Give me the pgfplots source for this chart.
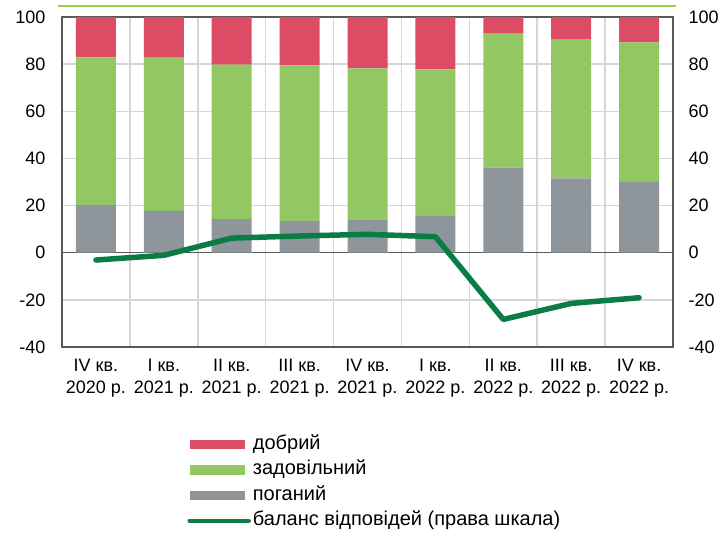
\documentclass[border=0pt]{standalone}
\usepackage{pgfplots}
\pgfplotsset{compat=1.18}
\usepackage{pgfplotstable}
\usepackage{fontspec}
\setmainfont{Liberation Sans}

\definecolor{cgood}{HTML}{DC4C64}
\definecolor{cok}{HTML}{92C764}
\definecolor{cbad}{HTML}{8E969B}
\definecolor{cbal}{HTML}{0A7D45}
\definecolor{cgrid}{HTML}{D6D6D6}
\definecolor{caxis}{HTML}{595959}
\definecolor{ctop}{HTML}{92D050}

% shares of answers (stacked) and balance (right scale)
\pgfplotstableread{
x bad ok good bal
0 20.2 62.7 17.1 -3.1
1 17.7 65.3 17.0 -1.1
2 14.3 65.5 20.2 6.2
3 13.4 66.1 20.5 7.1
4 14.1 64.1 21.8 7.8
5 15.6 62.2 22.2 6.8
6 36.1 56.8 7.1 -28.3
7 31.5 58.9 9.6 -21.5
8 30.1 59.1 10.8 -19.1
}\data

\pgfplotsset{
  base/.style={
    scale only axis, width=611pt, height=330pt,
    xmin=-0.5, xmax=8.5, ymin=-40, ymax=100,
    ytick={-40,-20,...,100},
    tick label style={font=\fontsize{18}{21.5}\selectfont},
    /pgf/number format/assume math mode=true,
    axis line style={caxis, line width=1.3pt},
    major tick length=0pt, minor tick length=0pt,
  }
}

\begin{document}
\begin{tikzpicture}
% grid underneath
\begin{axis}[
  base,
  xtick={0.5,1.5,...,7.5}, ytick={-20,20,40,60,80},
  xticklabels={}, yticklabels={},
  xmajorgrids=true,
  x grid style={cgrid, line width=1.5pt},
  axis line style={draw=none},
]
\pgfplotsinvokeforeach{-20,20,40,60,80}{
  \draw[cgrid, line width=1.5pt] (axis cs:-0.5,#1) -- (axis cs:8.5,#1);
}
\end{axis}

\begin{axis}[
  base, name=ax,
  ybar stacked, bar width=40pt,
  xtick={0,...,8},
  xticklabels={{IV кв.\\2020 р.},{I кв.\\2021 р.},{II кв.\\2021 р.},{III кв.\\2021 р.},{IV кв.\\2021 р.},{I кв.\\2022 р.},{II кв.\\2022 р.},{III кв.\\2022 р.},{IV кв.\\2022 р.}},
  xticklabel style={align=center},
  xticklabel shift=9pt,
  yticklabel shift=13pt,
]
\addplot[fill=cbad, draw=none] table[x=x, y=bad] {\data};
\addplot[fill=cok, draw=none] table[x=x, y=ok] {\data};
\addplot[fill=cgood, draw=none] table[x=x, y=good] {\data};
\draw[caxis, line width=1.3pt] (axis cs:-0.5,0) -- (axis cs:8.5,0);
\end{axis}

\begin{axis}[
  base,
  axis x line=none,
  axis y line*=right,
  axis line style={draw=none},
  yticklabel shift=12pt,
  clip=false,
  legend style={at={(0.2,-0.255)}, anchor=north west, draw=none, fill=none,
    font=\fontsize{20}{23}\selectfont, row sep=3.5pt,
    nodes={text height=14pt, text depth=4pt, inner sep=2pt}},
  legend cell align=left,
]
\addlegendimage{legend image code/.code={\fill[cgood] (0pt,-4.2pt) rectangle (54pt,4.2pt);}}
\addlegendentry{добрий}
\addlegendimage{legend image code/.code={\fill[cok] (0pt,-4.2pt) rectangle (54pt,4.2pt);}}
\addlegendentry{задовільний}
\addlegendimage{legend image code/.code={\fill[cbad] (0pt,-4.2pt) rectangle (54pt,4.2pt);}}
\addlegendentry{поганий}
\addplot[cbal, line width=5.5pt, line cap=round, line join=round,
  legend image code/.code={\draw[cbal, line width=4.5pt, line cap=round] (-1pt,0pt) -- (58pt,0pt);}]
  table[x=x, y=bal] {\data};
\addlegendentry{баланс відповідей (права шкала)}
\draw[ctop, line width=1.5pt] (rel axis cs:-0.0065,1.033) -- (rel axis cs:1.005,1.033);
\end{axis}
% page frame matching the reference margins
\path ([shift={(-62pt,17pt)}]ax.north west) rectangle ([shift={(51pt,-179pt)}]ax.south east);
\end{tikzpicture}
\end{document}
